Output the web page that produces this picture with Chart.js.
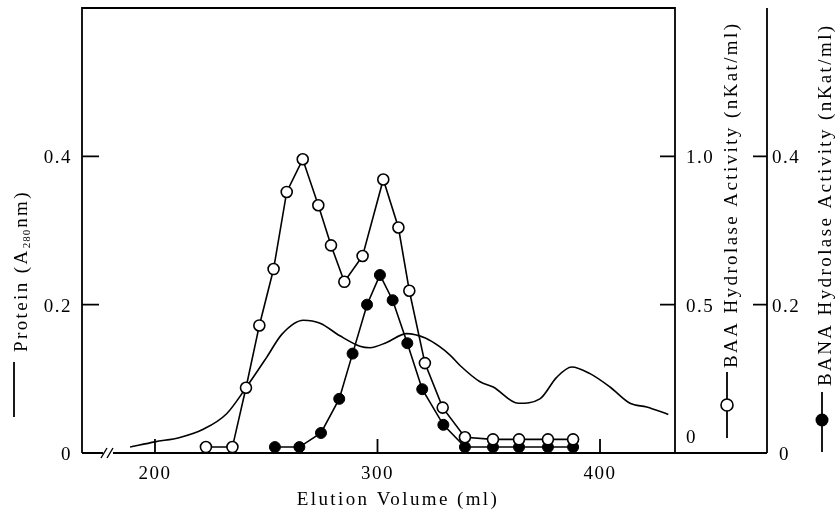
<!DOCTYPE html>
<html>
<head>
<meta charset="utf-8">
<script src="https://cdn.jsdelivr.net/npm/chart.js@4/dist/chart.umd.min.js"></script>
<style>
  html, body { margin: 0; padding: 0; background: #fff; }
  canvas { display: block; }
</style>
</head>
<body>
<canvas id="elution" width="838" height="512"></canvas>
<script>
// tick labels
var volumeTicks = [200, 300, 400];
var proteinTicks = [0, 0.2, 0.4];
var baaTicks = [0, 0.5, 1.0];
var banaTicks = [0, 0.2, 0.4];

// protein (A280nm), continuous trace
var proteinVol = [188.8, 200, 211.2, 221.7, 232.2, 240.9, 250.2, 257, 266.7, 274.2, 283.1, 292.1, 296.6, 304.1, 313.1, 321.5, 328.1, 332.6, 337.1, 346.1, 352, 363.3, 373, 380.5, 387.3, 395.5, 404.5, 413.5, 421, 430.7];
var proteinA280 = [0.008, 0.015, 0.021, 0.032, 0.053, 0.088, 0.129, 0.16, 0.179, 0.175, 0.158, 0.144, 0.142, 0.149, 0.161, 0.155, 0.143, 0.132, 0.118, 0.096, 0.089, 0.067, 0.073, 0.102, 0.116, 0.107, 0.089, 0.067, 0.062, 0.052];

// BAA hydrolase activity (nKat/ml), open circles
var baaVol = [222.9, 234.8, 240.9, 246.9, 253.3, 259.2, 266.4, 273.4, 279.1, 285.1, 293.3, 302.6, 309.4, 314.3, 321.3, 329.3, 339.3, 351.9, 363.6, 376.6, 387.9];
var baaAct = [0.02, 0.02, 0.22, 0.43, 0.62, 0.88, 0.99, 0.835, 0.70, 0.577, 0.664, 0.922, 0.76, 0.547, 0.303, 0.153, 0.053, 0.046, 0.046, 0.046, 0.046];

// BANA hydrolase activity (nKat/ml), filled circles
var banaVol = [253.9, 264.9, 274.6, 282.8, 288.8, 295.3, 301.1, 306.8, 313.4, 320.1, 329.6, 339.3, 351.9, 363.6, 376.6, 387.9];
var banaAct = [0.008, 0.008, 0.027, 0.073, 0.134, 0.200, 0.240, 0.206, 0.148, 0.086, 0.038, 0.008, 0.008, 0.008, 0.008, 0.008];

function pairs(xs, ys) {
  return xs.map(function(x, i) { return {x: x, y: ys[i]}; });
}
function fixTicks(list) {
  return function(scale) { scale.ticks = list.map(function(v) { return {value: v}; }); };
}
function fmt(v) { return v === 0 ? '0' : v.toFixed(1); }

var FONT = '19px "Liberation Serif", "Times New Roman", serif';

// draws a string rotated to read bottom-to-top, starting at (x, y)
function upText(ctx, str, x, y) {
  ctx.save();
  ctx.translate(x, y);
  ctx.rotate(-Math.PI / 2);
  ctx.textAlign = 'left';
  ctx.textBaseline = 'alphabetic';
  ctx.fillText(str, 0, 0);
  ctx.restore();
}

var framePlugin = {
  id: 'frame',
  afterDraw: function(chart) {
    var ctx = chart.ctx, a = chart.chartArea;
    var sx = chart.scales.x, sy = chart.scales.y, sb = chart.scales.yBaa, sn = chart.scales.yBana;
    var outer = sn.left;

    ctx.save();
    ctx.strokeStyle = '#000';
    ctx.fillStyle = '#000';
    ctx.lineWidth = 1.8;
    ctx.lineCap = 'butt';

    // box and axes
    ctx.beginPath();
    ctx.moveTo(a.left, a.bottom); ctx.lineTo(a.left, a.top);
    ctx.lineTo(a.right, a.top); ctx.lineTo(a.right, a.bottom);
    ctx.moveTo(outer, a.top); ctx.lineTo(outer, a.bottom);
    ctx.moveTo(a.left, a.bottom); ctx.lineTo(a.left + 21, a.bottom);
    ctx.moveTo(a.left + 31, a.bottom); ctx.lineTo(outer, a.bottom);
    ctx.stroke();

    // axis break //
    ctx.lineWidth = 1.4;
    ctx.beginPath();
    ctx.moveTo(a.left + 19, a.bottom + 5); ctx.lineTo(a.left + 25, a.bottom - 5);
    ctx.moveTo(a.left + 25, a.bottom + 5); ctx.lineTo(a.left + 31, a.bottom - 5);
    ctx.stroke();

    // inward tick marks
    ctx.lineWidth = 1.8;
    ctx.beginPath();
    sx.ticks.forEach(function(t) {
      var px = sx.getPixelForValue(t.value);
      ctx.moveTo(px, a.bottom); ctx.lineTo(px, a.bottom - 14);
    });
    sy.ticks.forEach(function(t) {
      if (t.value === 0) return;
      var py = sy.getPixelForValue(t.value);
      ctx.moveTo(a.left, py); ctx.lineTo(a.left + 17, py);
    });
    sb.ticks.forEach(function(t) {
      if (t.value === 0) return;
      var py = sb.getPixelForValue(t.value);
      ctx.moveTo(a.right, py); ctx.lineTo(a.right - 15, py);
    });
    sn.ticks.forEach(function(t) {
      if (t.value === 0) return;
      var py = sn.getPixelForValue(t.value);
      ctx.moveTo(outer, py); ctx.lineTo(outer - 14, py);
    });
    ctx.stroke();

    // tick labels
    ctx.font = FONT;
    ctx.letterSpacing = '1.5px';
    ctx.textBaseline = 'alphabetic';
    ctx.textAlign = 'center';
    sx.ticks.forEach(function(t) {
      ctx.fillText(String(t.value), sx.getPixelForValue(t.value), a.bottom + 26);
    });
    ctx.textAlign = 'right';
    sy.ticks.forEach(function(t) {
      ctx.fillText(fmt(t.value), a.left - 10, sy.getPixelForValue(t.value) + 7);
    });
    ctx.textAlign = 'left';
    sb.ticks.forEach(function(t) {
      var py = sb.getPixelForValue(t.value) + 7;
      if (t.value === 0) py -= 17;
      ctx.fillText(fmt(t.value), a.right + 11, py);
    });
    sn.ticks.forEach(function(t) {
      var py = sn.getPixelForValue(t.value) + 7;
      var px = t.value === 0 ? outer + 12 : outer + 5;
      ctx.fillText(fmt(t.value), px, py);
    });

    // axis titles
    ctx.letterSpacing = '2.4px';
    ctx.textAlign = 'center';
    ctx.fillText('Elution Volume (ml)', 398, 505);

    // left title with line key and subscript
    ctx.lineWidth = 1.8;
    ctx.beginPath();
    ctx.moveTo(14, 417); ctx.lineTo(14, 362);
    ctx.stroke();
    ctx.save();
    ctx.translate(27, 352);
    ctx.rotate(-Math.PI / 2);
    ctx.textAlign = 'left';
    var p1 = 'Protein (A';
    ctx.fillText(p1, 0, 0);
    var w = ctx.measureText(p1).width;
    ctx.font = '11px "Liberation Serif", serif';
    ctx.letterSpacing = '1px';
    ctx.fillText('280', w, 3);
    w += ctx.measureText('280').width + 1;
    ctx.font = FONT;
    ctx.letterSpacing = '2.4px';
    ctx.fillText('nm)', w, 0);
    ctx.restore();

    // BAA title with open-circle key
    ctx.beginPath();
    ctx.moveTo(727, 438); ctx.lineTo(727, 372);
    ctx.stroke();
    ctx.beginPath();
    ctx.arc(727, 405, 6, 0, Math.PI * 2);
    ctx.fillStyle = '#fff'; ctx.fill();
    ctx.lineWidth = 1.6; ctx.stroke();
    ctx.fillStyle = '#000';
    upText(ctx, 'BAA Hydrolase Activity (nKat/ml)', 737, 368);

    // BANA title with filled-circle key
    ctx.lineWidth = 1.8;
    ctx.beginPath();
    ctx.moveTo(822, 452); ctx.lineTo(822, 392);
    ctx.stroke();
    ctx.beginPath();
    ctx.arc(822, 420, 6.5, 0, Math.PI * 2);
    ctx.fill();
    upText(ctx, 'BANA Hydrolase Activity (nKat/ml)', 831, 386);

    ctx.restore();
  }
};

new Chart(document.getElementById('elution'), {
  type: 'scatter',
  data: {
    datasets: [{
      label: 'BAA Hydrolase Activity',
      data: pairs(baaVol, baaAct),
      yAxisID: 'yBaa',
      showLine: true,
      borderColor: '#000',
      borderWidth: 1.6,
      pointRadius: 5.5,
      pointBackgroundColor: '#fff',
      pointBorderColor: '#000',
      pointBorderWidth: 1.6
    }, {
      label: 'BANA Hydrolase Activity',
      data: pairs(banaVol, banaAct),
      yAxisID: 'yBana',
      showLine: true,
      borderColor: '#000',
      borderWidth: 1.6,
      pointRadius: 5.5,
      pointBackgroundColor: '#000',
      pointBorderColor: '#000',
      pointBorderWidth: 1
    }, {
      label: 'Protein',
      data: pairs(proteinVol, proteinA280),
      yAxisID: 'y',
      showLine: true,
      borderColor: '#000',
      borderWidth: 1.6,
      pointRadius: 0,
      cubicInterpolationMode: 'monotone'
    }] // datasets
  },
  options: {
    responsive: false,
    animation: false,
    layout: { padding: { top: 8 } },
    plugins: {
      legend: { display: false },
      tooltip: { enabled: false }
    },
    scales: {
      x: {
        type: 'linear', position: 'bottom', min: 167.2, max: 433.7,
        grid: { display: false }, border: { display: false }, ticks: { display: false },
        afterBuildTicks: fixTicks(volumeTicks),
        afterFit: function(s) { s.height = 59; }
      },
      y: {
        type: 'linear', position: 'left', min: 0, max: 0.6,
        grid: { display: false }, border: { display: false }, ticks: { display: false },
        afterBuildTicks: fixTicks(proteinTicks),
        afterFit: function(s) { s.width = 82; }
      },
      yBaa: {
        type: 'linear', position: 'right', min: 0, max: 1.5, weight: 0,
        grid: { display: false }, border: { display: false }, ticks: { display: false },
        afterBuildTicks: fixTicks(baaTicks),
        afterFit: function(s) { s.width = 92; }
      },
      yBana: {
        type: 'linear', position: 'right', min: 0, max: 0.6, weight: 1,
        grid: { display: false }, border: { display: false }, ticks: { display: false },
        afterBuildTicks: fixTicks(banaTicks),
        afterFit: function(s) { s.width = 71; }
      }
    } // scales
  },
  plugins: [framePlugin]
});
</script>
</body>
</html>
